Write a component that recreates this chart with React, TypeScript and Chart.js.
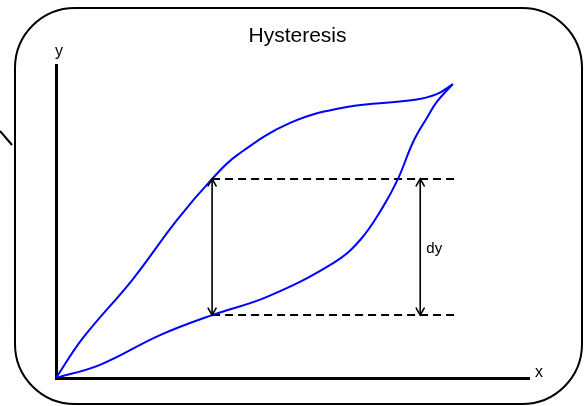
import React, { useEffect, useRef } from "react";
import { Chart, registerables } from "chart.js";

Chart.register(...registerables);

// Ascending (upper) branch of the hysteresis loop
const upperX = [0, 0.57, 1.61, 2.56, 3.3, 3.83, 4.95, 6.15, 7.55, 8.05, 8.39];
const upperY = [0, 1.28, 3.13, 5.05, 6.36, 7.12, 8.15, 8.66, 8.88, 9.07, 9.39];
// Lower branch of the loop
const lowerX = [0, 0.93, 2.2, 3.3, 4.46, 5.86, 6.43, 6.91, 7.23, 7.55, 7.84, 8.05, 8.39];
const lowerY = [0, 0.42, 1.37, 2.01, 2.59, 3.67, 4.41, 5.46, 6.36, 7.54, 8.31, 8.82, 9.39];
// Dashed reference levels and the dy arrows
const levels = [6.36, 2.01];
const levelRange = [3.3, 8.48];
const arrowXs = [3.3, 7.7];
const labels = { title: "Hysteresis", xAxis: "x", yAxis: "y", delta: "dy" };
const deltaLabelAt = [7.83, 4.0];

const FONT = "'Liberation Sans', Arial, Helvetica, sans-serif";

function toPoints(xs: number[], ys: number[]) {
  return xs.map((x, i) => ({ x, y: ys[i] }));
}

function arrowHead(ctx: CanvasRenderingContext2D, x: number, y: number, dir: number) {
  ctx.beginPath();
  ctx.moveTo(x - 4, y + dir * 7);
  ctx.lineTo(x, y);
  ctx.lineTo(x + 4, y + dir * 7);
  ctx.stroke();
}

const decorations = {
  id: "decorations",
  afterDatasetsDraw(chart: any) {
    const { ctx, scales } = chart;
    const xs = scales.x;
    const ys = scales.y;
    ctx.save();
    ctx.strokeStyle = "#000";
    ctx.lineWidth = 1.6;
    ctx.lineCap = "round";
    arrowXs.forEach((ax) => {
      const px = xs.getPixelForValue(ax);
      arrowHead(ctx, px, ys.getPixelForValue(levels[0]), 1);
      arrowHead(ctx, px, ys.getPixelForValue(levels[1]), -1);
    });
    ctx.restore();
  },
  afterDraw(chart: any) {
    const { ctx, chartArea, scales } = chart;
    ctx.save();
    ctx.strokeStyle = "#000";
    ctx.lineWidth = 2;
    ctx.beginPath();
    (ctx as any).roundRect(15, 8, 567, 396, 60);
    ctx.stroke();
    ctx.beginPath();
    ctx.moveTo(0, 131);
    ctx.lineTo(12, 145);
    ctx.stroke();

    ctx.fillStyle = "#000";
    ctx.textBaseline = "alphabetic";
    ctx.textAlign = "center";
    ctx.font = `21px ${FONT}`;
    ctx.fillText(labels.title, 297.5, 41.5);

    ctx.textAlign = "left";
    ctx.font = `16px ${FONT}`;
    ctx.fillText(labels.yAxis, chartArea.left - 1, chartArea.top - 9);
    ctx.fillText(labels.xAxis, chartArea.right + 6, chartArea.bottom - 1);

    ctx.font = `15px ${FONT}`;
    ctx.fillText(
      labels.delta,
      scales.x.getPixelForValue(deltaLabelAt[0]),
      scales.y.getPixelForValue(deltaLabelAt[1])
    );
    ctx.restore();
  },
};

export default function App() {
  const ref = useRef<HTMLCanvasElement | null>(null);

  useEffect(() => {
    document.body.style.margin = "0";
    const canvas = ref.current;
    if (!canvas) return;

    const blue = {
      borderColor: "#0000ff",
      borderWidth: 2,
      pointRadius: 0,
      showLine: true,
      tension: 0.4,
      fill: false,
    };
    const dashed = {
      borderColor: "#000",
      borderWidth: 2,
      borderDash: [8, 5],
      pointRadius: 0,
      showLine: true,
      tension: 0,
      fill: false,
    };
    const arrow = {
      borderColor: "#000",
      borderWidth: 1.6,
      pointRadius: 0,
      showLine: true,
      tension: 0,
      fill: false,
    };

    const chart = new Chart(canvas, {
      type: "scatter",
      data: {
        datasets: [
          { label: "upper", data: toPoints(upperX, upperY), ...blue },
          { label: "lower", data: toPoints(lowerX, lowerY), ...blue },
          ...levels.map((lv) => ({
            label: "level",
            data: levelRange.map((x) => ({ x, y: lv })),
            ...dashed,
          })),
          ...arrowXs.map((ax) => ({
            label: "arrow",
            data: levels.map((y) => ({ x: ax, y })),
            ...arrow,
          })),
        ],
      },
      options: {
        animation: false,
        responsive: true,
        maintainAspectRatio: false,
        layout: { padding: { left: 56, right: 56, top: 65, bottom: 28 } },
        plugins: {
          legend: { display: false },
          title: { display: false },
          tooltip: { enabled: false },
        },
        events: [],
        scales: {
          x: {
            type: "linear",
            min: 0,
            max: 10,
            grid: { display: false, drawTicks: false },
            ticks: { display: false },
            border: { display: true, color: "#000", width: 3 },
          },
          y: {
            type: "linear",
            min: 0,
            max: 10,
            grid: { display: false, drawTicks: false },
            ticks: { display: false },
            border: { display: true, color: "#000", width: 3 },
          },
        },
      },
      plugins: [decorations],
    });

    return () => chart.destroy();
  }, []);

  return (
    <div style={{ position: "relative", width: 585, height: 406 }}>
      <canvas ref={ref} />
    </div>
  );
}
